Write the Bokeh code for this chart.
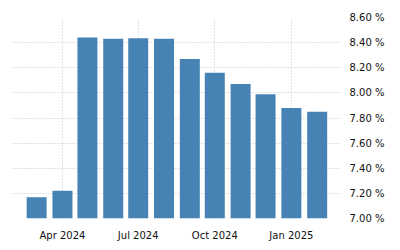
import pandas as pd
from bokeh.plotting import figure
from bokeh.models import (Range1d, FixedTicker, DatetimeTickFormatter,
                          PrintfTickFormatter, ColumnDataSource)
from bokeh.embed import file_html
from bokeh.resources import INLINE

months = ["2024-03-01", "2024-04-01", "2024-05-01", "2024-06-01", "2024-07-01",
          "2024-08-01", "2024-09-01", "2024-10-01", "2024-11-01", "2024-12-01",
          "2025-01-01", "2025-02-01"]
rates = [7.17, 7.22, 8.44, 8.43, 8.435, 8.43, 8.27, 8.16, 8.07, 7.99, 7.88, 7.85]
x_ticks = ["2024-04-01", "2024-07-01", "2024-10-01", "2025-01-01"]
y_ticks = [7.0, 7.2, 7.4, 7.6, 7.8, 8.0, 8.2, 8.4, 8.6]

dates = pd.to_datetime(months)
src = ColumnDataSource(dict(x=dates, top=rates))

p = figure(width=400, height=250, output_backend="svg", toolbar_location=None,
           x_axis_type="datetime", y_axis_location="right",
           min_border_left=12, min_border_right=60, min_border_top=17,
           min_border_bottom=32)
p.x_range = Range1d(pd.Timestamp("2024-02-01"), pd.Timestamp("2025-03-01"))
p.y_range = Range1d(7.0, 8.6)
p.outline_line_color = None

day_ms = 24 * 3600 * 1000
p.vbar(x="x", top="top", bottom=7.0, width=24 * day_ms, source=src,
       fill_color="#4682B4", line_color=None)

tick_ms = [pd.Timestamp(t).value / 1e6 for t in x_ticks]
p.xaxis.ticker = FixedTicker(ticks=tick_ms)
fmt = "%b %Y"
p.xaxis.formatter = DatetimeTickFormatter(
    milliseconds=fmt, seconds=fmt, minsec=fmt, minutes=fmt, hourmin=fmt,
    hours=fmt, days=fmt, months=fmt, years=fmt)
p.yaxis.ticker = FixedTicker(ticks=y_ticks)
p.yaxis.formatter = PrintfTickFormatter(format="%.2f %%")

for ax in (p.xaxis[0], p.yaxis[0]):
    ax.axis_line_color = None
    ax.major_tick_line_color = None
    ax.minor_tick_line_color = None
    ax.major_label_text_font = "DejaVu Sans"
    ax.major_label_text_font_size = "10px"
    ax.major_label_text_color = "#111111"
p.xaxis.major_label_standoff = 5
p.yaxis.major_label_standoff = 3

for g in (p.xgrid[0], p.ygrid[0]):
    g.grid_line_color = "#c4c4c4"
    g.grid_line_dash = "1 2"
    g.grid_line_width = 1

open("out.html", "w").write(file_html(p, INLINE))
